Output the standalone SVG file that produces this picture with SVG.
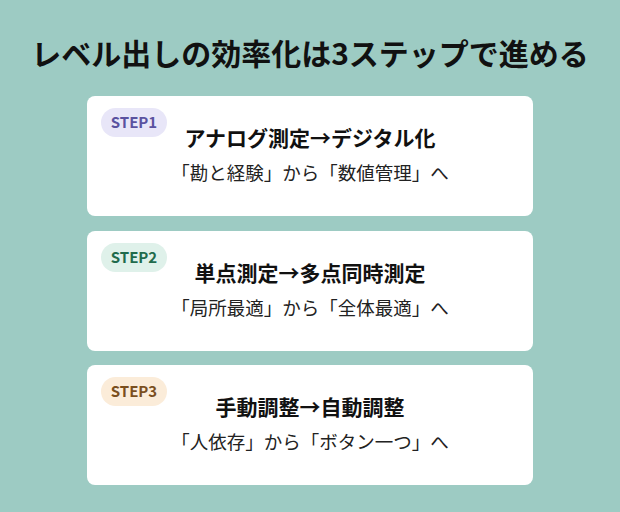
<svg xmlns="http://www.w3.org/2000/svg" width="620" height="512" viewBox="0 0 620 512">
<style>
text{font-family:"Noto Sans CJK JP","Noto Sans",sans-serif;text-anchor:middle}
.card{fill:#fff}
.t{font-size:21px;font-weight:700;fill:#111}
.s{font-size:18.5px;fill:#222}
.b{font-size:15px;font-weight:700}
</style>
<rect width="620" height="512" fill="#9dcbc3"/>
<text x="310" y="65" style="font-size:30px;font-weight:700;fill:#111">レベル出しの効率化は3ステップで進める</text>
<g id="step1">
<rect class="card" x="87" y="96" width="446" height="120" rx="8"/>
<rect x="101" y="108" width="66" height="29" rx="14.5" fill="#e8e6f8"/>
<text class="b" x="134" y="128" fill="#5a52a0">STEP1</text>
<text class="t" x="310" y="146">アナログ測定→デジタル化</text>
<text class="s" x="310" y="180">「勘と経験」から「数値管理」へ</text>
</g>
<g id="step2">
<rect class="card" x="87" y="231" width="446" height="120" rx="8"/>
<rect x="101" y="243" width="66" height="29" rx="14.5" fill="#dff1ea"/>
<text class="b" x="134" y="263" fill="#1f6b4c">STEP2</text>
<text class="t" x="310" y="281">単点測定→多点同時測定</text>
<text class="s" x="310" y="315">「局所最適」から「全体最適」へ</text>
</g>
<g id="step3">
<rect class="card" x="87" y="365" width="446" height="120" rx="8"/>
<rect x="101" y="377" width="66" height="29" rx="14.5" fill="#fbecd9"/>
<text class="b" x="134" y="397" fill="#7a4f1e">STEP3</text>
<text class="t" x="310" y="415">手動調整→自動調整</text>
<text class="s" x="310" y="449">「人依存」から「ボタン一つ」へ</text>
</g>
<g id="connectors"/>
</svg>
